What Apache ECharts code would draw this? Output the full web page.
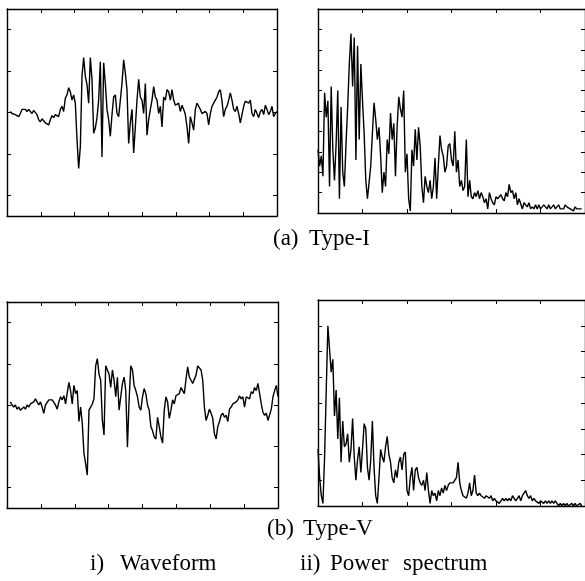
<!DOCTYPE html>
<html>
<head>
<meta charset="utf-8">
<script src="https://cdn.jsdelivr.net/npm/echarts@6/dist/echarts.min.js"></script>
<style>
html,body{margin:0;padding:0;background:#fff;}
#c{width:585px;height:581px;}
</style>
</head>
<body>
<div id="c"></div>
<script>
// Waveform of Type-I (amplitude, arbitrary units, ±100 = frame)
const waveTypeI = [1,-1,0,-2,-1,-4,-1,3,4,3,1,3,1,-1,2,3,-2,-7,-9,-6,-8,-10,-9,-12,-7,-3,-5,-2,-1,-4,
3,6,1,14,17,24,20,12,17,9,-26,-54,-33,35,53,35,27,9,53,32,-20,-15,-5,12,49,-43,48,28,3,-7,
-23,-2,15,17,-1,-4,12,28,51,38,22,-30,-10,3,-39,-14,12,32,15,12,-1,28,-22,-7,3,12,25,15,12,-1,
6,-14,15,12,22,20,12,22,12,7,6,9,1,7,3,-2,-14,-30,-4,-10,-17,3,9,6,3,-1,-2,1,-1,-12,
-1,6,9,12,15,20,22,11,-4,3,6,12,19,12,3,1,6,-1,-10,-2,6,11,12,9,12,-1,-4,3,-1,-5,
1,3,-2,7,3,-2,1,6,-4,-1,1];
// Waveform of Type-V
const waveTypeV = [3,0,-2,0,-4,-2,-5,-4,-2,-4,0,-2,1,0,3,6,5,0,3,-2,-8,0,1,5,6,5,6,0,-4,3,
8,5,9,1,0,22,14,1,19,11,14,-16,-2,-18,-47,-57,-68,-5,-2,1,6,38,45,30,24,-15,-29,38,34,30,
17,34,24,8,27,-5,8,21,27,14,-41,5,38,34,19,14,8,-2,-5,8,16,11,0,-5,-21,-25,-31,-33,-12,-21,
-31,-37,-5,8,3,-13,-5,5,1,9,8,11,17,14,11,25,37,27,24,21,22,29,38,37,34,24,-2,-15,
-10,-4,-8,-13,-28,-33,-21,-16,-10,-8,-12,-10,-16,-4,-2,1,0,3,5,9,6,8,-2,8,9,6,13,11,17,14,
21,22,1,-7,-10,-8,-15,-15,-4,8,14,19,8];
// Power spectrum of Type-I
const specTypeI = [3.1,2.3,2.8,1.8,5.9,4.7,5.5,1.3,6.2,3.1,1.6,3.4,6.0,0.7,5.2,2.0,1.3,3.4,5.2,7.3,
8.8,6.2,8.6,2.6,8.2,3.6,7.3,5.5,3.9,1.6,0.7,1.5,2.3,3.9,5.4,4.6,3.6,4.2,2.8,1.0,
2.0,1.3,3.6,2.9,4.9,3.6,4.4,1.8,4.2,5.7,5.1,4.7,6.0,2.0,2.9,0.7,0.1,3.1,2.3,4.1,
2.6,4.2,3.3,1.3,0.5,1.8,1.3,1.0,1.6,0.7,1.3,2.7,0.7,2.3,3.8,3.1,2.8,2.0,2.3,3.3,
3.4,2.6,2.3,4.0,2.0,2.6,1.3,1.6,1.1,1.3,3.6,0.8,1.6,0.8,0.7,1.0,0.8,1.1,0.7,1.0,
0.8,0.5,0.7,0.2,1.0,0.7,0.5,0.4,0.8,0.7,0.7,0.9,0.7,0.6,1.0,0.8,1.4,1.0,1.1,0.7,
1.0,0.4,0.7,0.7,0.2,0.5,0.4,0.3,0.5,0.2,0.3,0.2,0.4,0.2,0.4,0.2,0.2,0.4,0.3,0.2,
0.4,0.2,0.3,0.4,0.2,0.3,0.4,0.2,0.2,0.2,0.4,0.3,0.3,0.2,0.2,0.1,0.3,0.2,0.2,0.2,0.2];
// Power spectrum of Type-V
const specTypeV = [2.2,1.1,0.4,0.1,1.9,4.5,7.0,6.1,5.2,5.7,3.5,4.5,2.6,4.2,1.7,3.3,2.3,2.4,2.8,1.7,
2.2,3.4,1.9,1.0,1.8,2.3,1.3,2.2,3.2,3.0,1.5,1.0,1.8,3.3,1.5,0.4,0.1,1.1,2.2,1.9,
1.7,2.3,2.7,2.0,1.7,1.1,0.9,1.4,1.1,1.7,1.9,1.4,2.0,2.1,0.6,0.4,1.1,1.5,0.6,1.4,
1.5,1.1,0.9,0.8,1.0,0.6,1.3,0.6,0.1,0.6,0.4,0.5,0.2,0.6,0.4,0.7,0.5,0.8,0.6,0.8,
0.9,0.9,0.9,1.0,1.1,1.7,0.9,0.6,0.4,0.4,0.3,0.5,0.9,0.4,0.6,1.2,0.5,0.4,0.5,0.4,
0.4,0.3,0.4,0.4,0.3,0.4,0.2,0.3,0.2,0.2,0.1,0.2,0.3,0.2,0.3,0.2,0.3,0.2,0.4,0.3,
0.2,0.3,0.4,0.2,0.4,0.5,0.6,0.4,0.3,0.4,0.2,0.3,0.2,0.2,0.1,0.2,0.2,0.1,0.2,0.1,
0.2,0.1,0.2,0.1,0.2,0.1,0.0,0.1,0.0,0.1,0.0,0.1,0.0,0.0,0.1,0.0,0.1,0.0,0.0,0.1,0.0];

const waveTicks = [-80, -40, 0, 40, 80];

const grids = [
  {left: 7, top: 9, width: 270, height: 207},
  {left: 318, top: 9, width: 270, height: 204},
  {left: 7, top: 302, width: 271, height: 206},
  {left: 318, top: 300, width: 270, height: 206}
];

function axisLine() { return {show: true, onZero: false, lineStyle: {color: '#000', width: 1.4}}; }
function axisTick() { return {show: true, inside: true, length: 4, lineStyle: {color: '#000', width: 1}}; }

function xAxes(g, max, interval) {
  return ['bottom', 'top'].map(pos => ({
    gridIndex: g, type: 'value', position: pos, min: 0, max: max, interval: interval,
    axisLine: axisLine(), axisTick: axisTick(),
    axisLabel: {show: false}, splitLine: {show: false}
  }));
}
function yAxes(g, min, max, interval, custom) {
  return ['left', 'right'].map(pos => {
    const a = {
      gridIndex: g, type: 'value', position: pos, min: min, max: max,
      axisLine: axisLine(), axisTick: axisTick(),
      axisLabel: {show: false}, splitLine: {show: false}
    };
    if (custom) { a.axisTick.customValues = custom; a.axisLabel.customValues = custom; }
    else a.interval = interval;
    return a;
  });
}

const xs = [].concat(xAxes(0, 162, 20.25), xAxes(1, 162, 27), xAxes(2, 162, 20.25), xAxes(3, 162, 27));
const ys = [].concat(yAxes(0, -100, 100, null, waveTicks), yAxes(1, 0, 10, 1), yAxes(2, -100, 100, null, waveTicks), yAxes(3, 0, 8, 1));

function mk(arr, g, off) {
  return {
    type: 'line', xAxisIndex: g * 2, yAxisIndex: g * 2,
    data: arr.map((v, i) => [i + off, v]),
    showSymbol: false, symbol: 'none', silent: true,
    lineStyle: {color: '#000', width: 1.4}
  };
}

const font = '"Liberation Serif", "Times New Roman", serif';
function txt(s, x, y) {
  return {type: 'text', x: x, y: y, style: {text: s, fill: '#000', font: '23px ' + font, align: 'left', verticalAlign: 'middle'}};
}

const chart = echarts.init(document.getElementById('c'), null, {renderer: 'canvas'});
chart.setOption({
  animation: false,
  backgroundColor: '#fff',
  grid: grids,
  xAxis: xs,
  yAxis: ys,
  series: [mk(waveTypeI, 0, 2), mk(specTypeI, 1, 0), mk(waveTypeV, 2, 2), mk(specTypeV, 3, 0)],
  graphic: [
    txt('(a)', 273, 239),
    txt('Type-I', 309, 239),
    txt('(b)', 267, 529),
    txt('Type-V', 303, 529),
    txt('i)', 90, 564),
    txt('Waveform', 120, 564),
    txt('ii)', 300, 564),
    txt('Power', 330, 564),
    txt('spectrum', 403, 564)
  ]
});
</script>
</body>
</html>
